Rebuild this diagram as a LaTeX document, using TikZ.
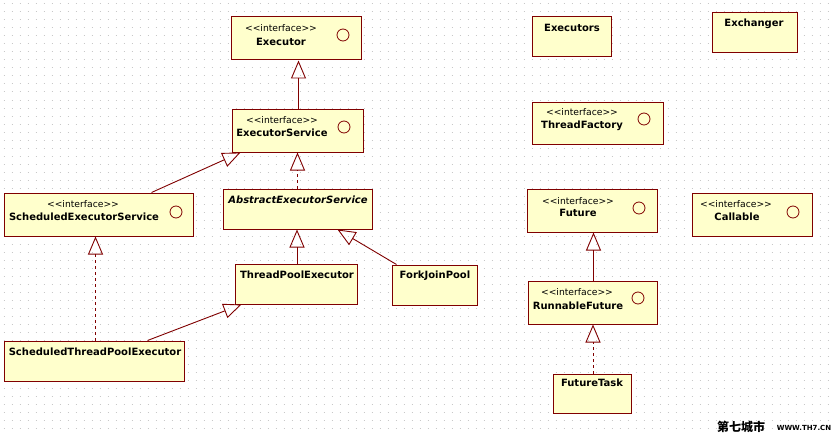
\documentclass[tikz,border=0pt]{standalone}
\usepackage{fontspec}
\setmainfont{DejaVu Sans}
\newfontfamily\cjk{Noto Sans CJK SC}
\usetikzlibrary{arrows.meta,calc}
\definecolor{umlline}{RGB}{128,0,0}
\definecolor{umlfill}{RGB}{255,255,204}
\definecolor{griddot}{RGB}{200,200,200}
\newcommand{\stereotxt}{<\kern0pt<interface>\kern0pt>}
\tikzset{
  umlbox/.style={draw=umlline, fill=umlfill, line width=1pt, inner sep=0pt},
  stereo/.style={inner sep=0pt, font=\fontsize{9.2}{10}\selectfont},
  cname/.style={inner sep=0pt, font=\fontsize{10}{11}\selectfont\bfseries},
  aname/.style={inner sep=0pt, font=\fontsize{10}{11}\selectfont\bfseries\itshape},
  iface/.style={circle, draw=umlline, line width=0.8pt, minimum size=12pt, inner sep=0pt},
  gen/.style={draw=umlline, line width=0.9pt, -{Triangle[open,length=18pt,width=15pt,line width=0.9pt]}},
  real/.style={gen, dash pattern=on 3pt off 3pt},
  dotgrid/.style={draw=griddot, line width=1pt, dash pattern=on 1pt off 7pt},
}
\begin{document}
\begin{tikzpicture}[x=1pt,y=-1pt]
\useasboundingbox (0,0) rectangle (833,436);
\fill[white] (0,0) rectangle (833,436);
\foreach \gy in {4,12,...,436} { \draw[dotgrid] (3.5,\gy) -- (833,\gy); }

% Executor
\node[umlbox, minimum width=130pt, minimum height=43pt] (ex) at (296,38.5) {};
\node[stereo] (ex-s) at (281,28) {\stereotxt};
\node[cname] (ex-n) at (281,42) {Executor};
\node[iface] (ex-c) at (343,35) {};

% ExecutorService
\node[umlbox, minimum width=131pt, minimum height=43pt] (es) at (297.5,130.5) {};
\node[stereo] (es-s) at (282,120) {\stereotxt};
\node[cname] (es-n) at (282,133) {ExecutorService};
\node[iface] (es-c) at (344,127) {};

% ScheduledExecutorService
\node[umlbox, minimum width=189pt, minimum height=43pt] (ses) at (98.5,214.5) {};
\node[stereo] (ses-s) at (83,204) {\stereotxt};
\node[cname] (ses-n) at (84,217) {ScheduledExecutorService};
\node[iface] (ses-c) at (176,212) {};

% AbstractExecutorService
\node[umlbox, minimum width=149pt, minimum height=40pt] (aes) at (297.5,209) {};
\node[aname] (aes-n) at (298,200) {AbstractExecutorService};

% ThreadPoolExecutor
\node[umlbox, minimum width=122pt, minimum height=40pt] (tpe) at (296,284) {};
\node[cname] (tpe-n) at (297,275) {ThreadPoolExecutor};

% ForkJoinPool
\node[umlbox, minimum width=85pt, minimum height=40pt] (fjp) at (434.5,285) {};
\node[cname] (fjp-n) at (435,276) {ForkJoinPool};

% ScheduledThreadPoolExecutor
\node[umlbox, minimum width=180pt, minimum height=40pt] (stpe) at (94,361) {};
\node[cname] (stpe-n) at (95,352) {ScheduledThreadPoolExecutor};

% Executors
\node[umlbox, minimum width=79pt, minimum height=40pt] (exs) at (571.5,37) {};
\node[cname] (exs-n) at (572,28) {Executors};

% Exchanger
\node[umlbox, minimum width=85pt, minimum height=40pt] (xch) at (754.5,33) {};
\node[cname] (xch-n) at (754,24) {Exchanger};

% ThreadFactory
\node[umlbox, minimum width=131pt, minimum height=42pt] (tf) at (597.5,123) {};
\node[stereo] (tf-s) at (582,112) {\stereotxt};
\node[cname] (tf-n) at (582,126) {ThreadFactory};
\node[iface] (tf-c) at (644,119) {};

% Future
\node[umlbox, minimum width=130pt, minimum height=43pt] (fu) at (592,210.5) {};
\node[stereo] (fu-s) at (578,201) {\stereotxt};
\node[cname] (fu-n) at (578,213) {Future};
\node[iface] (fu-c) at (639,208) {};

% Callable
\node[umlbox, minimum width=120pt, minimum height=43pt] (ca) at (752,214.5) {};
\node[stereo] (ca-s) at (736,204) {\stereotxt};
\node[cname] (ca-n) at (737,217) {Callable};
\node[iface] (ca-c) at (793,212) {};

% RunnableFuture
\node[umlbox, minimum width=129pt, minimum height=43pt] (rf) at (592.5,302.5) {};
\node[stereo] (rf-s) at (577,292) {\stereotxt};
\node[cname] (rf-n) at (578,306) {RunnableFuture};
\node[iface] (rf-c) at (638,298) {};

% FutureTask
\node[umlbox, minimum width=78pt, minimum height=39pt] (ft) at (592,393.5) {};
\node[cname] (ft-n) at (592,383) {FutureTask};

% connectors
\draw[gen] ([xshift=1pt]es.north) -- ([xshift=1pt]es.north |- ex.south);
\draw[real] (aes.north) -- (aes.north |- es.south);
\draw[gen] ([xshift=148pt]ses.north west) -- ([xshift=9pt]es.south west);
\draw[gen] ([xshift=1pt]tpe.north) -- ([xshift=1pt]tpe.north |- aes.south);
\draw[gen] ([xshift=5pt]fjp.north west) -- ([xshift=-35pt]aes.south east);
\draw[real] ([xshift=92pt]stpe.north west) -- ([xshift=92pt]stpe.north west |- ses.south);
\draw[gen] ([xshift=144pt]stpe.north west) -- ([xshift=7pt]tpe.south west);
\draw[gen] ([xshift=1pt]rf.north) -- ([xshift=1pt]rf.north |- fu.south);
\draw[real] ([xshift=1pt]ft.north) -- ([xshift=1pt]ft.north |- rf.south);

% watermark
\node[inner sep=0pt, font=\cjk\bfseries\fontsize{12}{12}\selectfont] (wm1) at (741,427) {第七城市};
\node[inner sep=0pt, font=\fontsize{7}{7}\selectfont\bfseries] (wm2) at (804,427.5) {WWW.TH7.CN};
\end{tikzpicture}
\end{document}
